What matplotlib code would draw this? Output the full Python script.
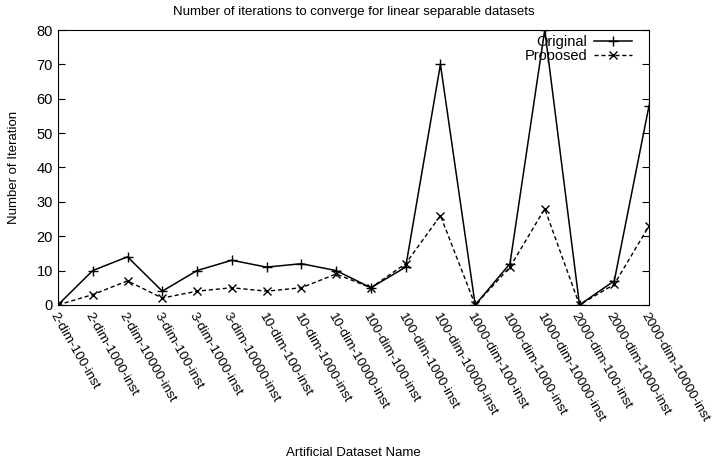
import matplotlib.pyplot as plt
import numpy as np

plt.rcParams['font.family'] = ['Liberation Sans', 'DejaVu Sans']

datasets = ['2-dim-100-inst', '2-dim-1000-inst', '2-dim-10000-inst',
            '3-dim-100-inst', '3-dim-1000-inst', '3-dim-10000-inst',
            '10-dim-100-inst', '10-dim-1000-inst', '10-dim-10000-inst',
            '100-dim-100-inst', '100-dim-1000-inst', '100-dim-10000-inst',
            '1000-dim-100-inst', '1000-dim-1000-inst', '1000-dim-10000-inst',
            '2000-dim-100-inst', '2000-dim-1000-inst', '2000-dim-10000-inst']
original = [0, 10, 14, 4, 10, 13, 11, 12, 10, 5, 11, 70, 0, 12, 80, 0, 7, 58]
proposed = [0, 3, 7, 2, 4, 5, 4, 5, 9, 5, 12, 26, 0, 11, 28, 0, 6, 23]

fig = plt.figure(figsize=(7.13, 4.62), dpi=100)
ax = fig.add_axes([0.0813, 0.340, 0.8290, 0.595])

x = np.arange(len(datasets))
ax.plot(x, original, color='black', lw=1.1, marker='+', ms=7, mew=1.0, label='Original')
ax.plot(x, proposed, color='black', lw=1.0, ls=(0, (3, 2)), marker='x', ms=6, mew=1.0,
        label='Proposed')

ax.set_xlim(0, len(datasets) - 1)
ax.set_ylim(0, 80)
ax.set_yticks(range(0, 81, 10))
ax.set_xticks(x)
ax.set_xticklabels(datasets, rotation=-60, ha='left', va='top', rotation_mode='anchor',
                   fontsize=9.7)
ax.tick_params(axis='y', direction='in', right=True, length=5, labelsize=10.5)
ax.tick_params(axis='x', direction='in', length=0, pad=4)

ax.set_title('Number of iterations to converge for linear separable datasets',
             fontsize=9.5, pad=11)
ax.set_ylabel('Number of Iteration', fontsize=9.5, labelpad=12)
fig.text(0.5 * (0.0813 + 0.910), 1 - 453 / 462, 'Artificial Dataset Name',
         ha='center', va='center', fontsize=9.5)

ax.legend(loc='upper right', bbox_to_anchor=(1 - 8 / 591, 1 + 4 / 275), frameon=False,
          markerfirst=False, fontsize=10.5, handlelength=2.6, borderaxespad=0.2,
          labelspacing=0.0, handletextpad=0.5)

fig.savefig('out.png', dpi=100)
